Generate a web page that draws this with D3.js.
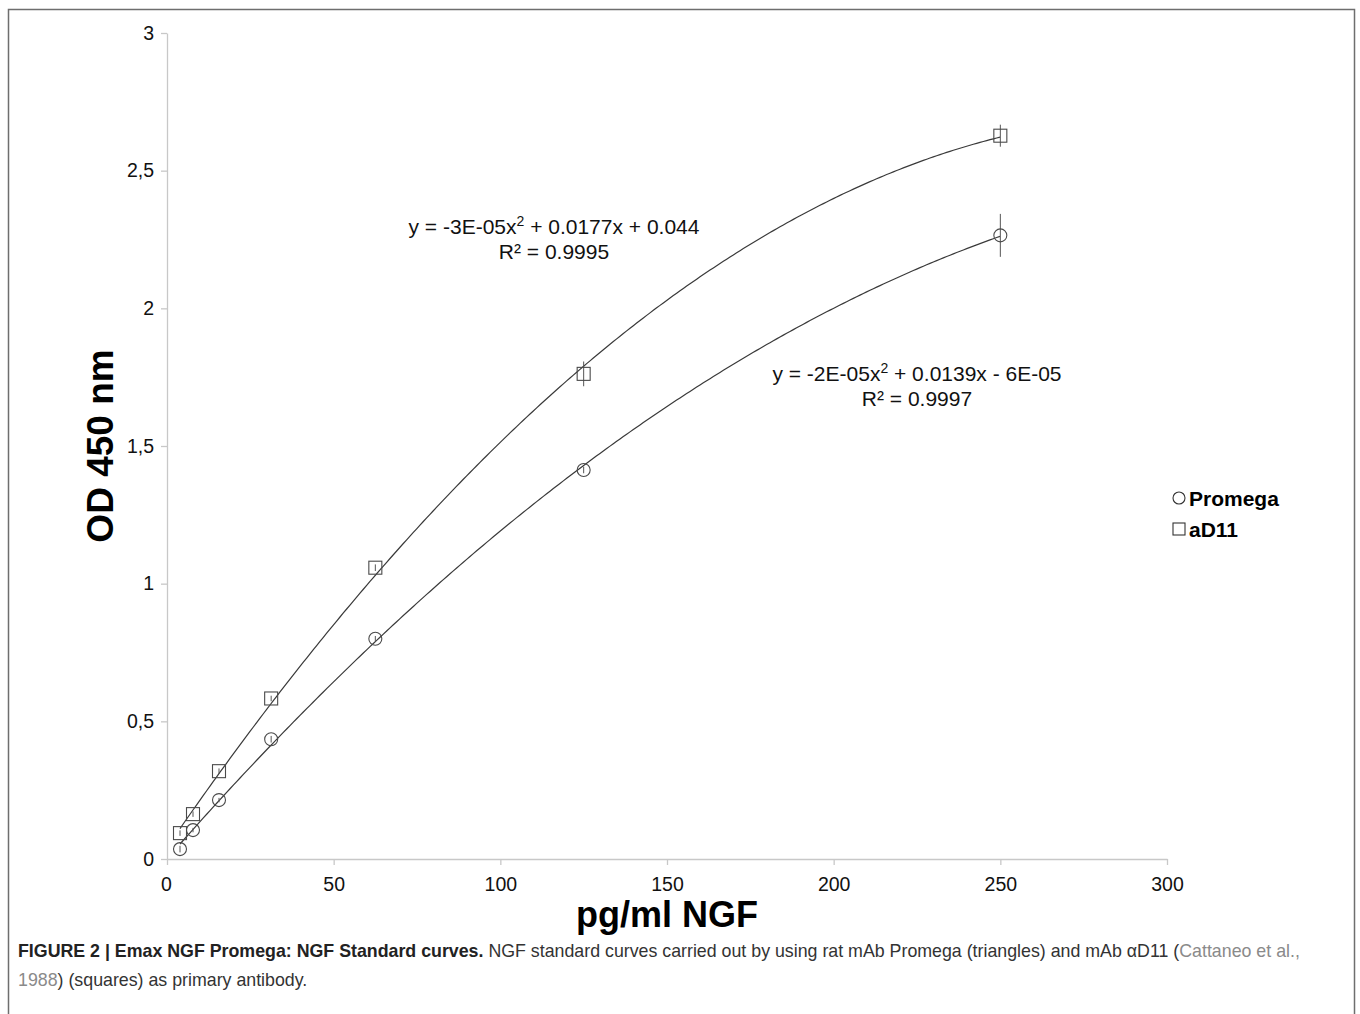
<!DOCTYPE html>
<html>
<head>
<meta charset="utf-8">
<script src="https://cdn.jsdelivr.net/npm/d3@7"></script>
<style>
  body { margin: 0; background: #fff; }
  svg { font-family: "Liberation Sans", Arial, sans-serif; }
</style>
</head>
<body>
<svg id="chart" width="1360" height="1014"></svg>
<script>
// concentrations (pg/ml)
const conc = [3.9, 7.8, 15.6, 31.25, 62.5, 125, 250]
// OD 450 values
const promega = [0.036, 0.105, 0.214, 0.435, 0.80, 1.413, 2.265]
const promegaErr = [0.012, 0.008, 0.008, 0.012, 0.01, 0.012, 0.078]
const ad11 = [0.094, 0.163, 0.319, 0.583, 1.058, 1.762, 2.627]
const ad11Err = [0.01, 0.01, 0.01, 0.01, 0.012, 0.045, 0.04]

const xTicks = [0, 50, 100, 150, 200, 250, 300]
const yTicks = [0, 0.5, 1, 1.5, 2, 2.5, 3]

const svg = d3.select("#chart")

// outer frame
svg.append("rect")
  .attr("x", 8.5).attr("y", 9.5)
  .attr("width", 1346).attr("height", 1020)
  .attr("fill", "none").attr("stroke", "#6e6e6e").attr("stroke-width", 1.5)

const x = d3.scaleLinear().domain([0, 300]).range([167, 1167])
const y = d3.scaleLinear().domain([0, 3]).range([859, 33])

const fmt = d => String(d).replace(".", ",")

// axes
const xAxis = svg.append("g")
  .attr("transform", "translate(0,859)")
  .call(d3.axisBottom(x).tickValues(xTicks).tickSize(8).tickSizeOuter(0).tickFormat(d => d))
const yAxis = svg.append("g")
  .attr("transform", "translate(167,0)")
  .call(d3.axisLeft(y).tickValues(yTicks).tickSize(6).tickSizeOuter(0).tickFormat(fmt))

;[xAxis, yAxis].forEach(g => {
  g.select(".domain").attr("stroke", "#c8c8c8").attr("stroke-width", 1.3)
  g.selectAll(".tick line").attr("stroke", "#c8c8c8").attr("stroke-width", 1.3)
  g.selectAll(".tick text")
    .attr("font-size", 19.5).attr("fill", "#111")
    .attr("font-family", "Liberation Sans, Arial, sans-serif")
})
xAxis.selectAll(".tick line").attr("y2", 6)
xAxis.selectAll(".tick text").attr("dy", "0.71em").attr("y", 18)
yAxis.selectAll(".tick text").attr("x", -13)
xAxis.selectAll(".tick text").filter(d => d === 0).attr("dx", -1)

// axis titles
svg.append("text")
  .attr("x", 667).attr("y", 927)
  .attr("text-anchor", "middle")
  .attr("font-size", 36).attr("font-weight", "bold")
  .text("pg/ml NGF")

svg.append("text")
  .attr("transform", "translate(113,446) rotate(-90)")
  .attr("text-anchor", "middle")
  .attr("font-size", 37).attr("font-weight", "bold")
  .text("OD 450 nm")

// quadratic least squares trendline
function quadFit(xs, ys) {
  let s = [0, 0, 0, 0, 0], t = [0, 0, 0]
  xs.forEach((xi, i) => {
    for (let k = 0; k < 5; k++) s[k] += Math.pow(xi, k)
    for (let k = 0; k < 3; k++) t[k] += ys[i] * Math.pow(xi, k)
  })
  const A = [[s[0], s[1], s[2], t[0]], [s[1], s[2], s[3], t[1]], [s[2], s[3], s[4], t[2]]]
  for (let i = 0; i < 3; i++) {
    for (let j = i + 1; j < 3; j++) {
      const f = A[j][i] / A[i][i]
      for (let k = i; k < 4; k++) A[j][k] -= f * A[i][k]
    }
  }
  const c = [0, 0, 0]
  for (let i = 2; i >= 0; i--) {
    let v = A[i][3]
    for (let k = i + 1; k < 3; k++) v -= A[i][k] * c[k]
    c[i] = v / A[i][i]
  }
  return xv => c[0] + c[1] * xv + c[2] * xv * xv
}

const line = d3.line().x(d => x(d[0])).y(d => y(d[1]))

function drawSeries(vals, errs, shape) {
  const f = quadFit(conc, vals)
  const pts = d3.range(conc[0], 250.01, 1).map(v => [v, f(v)])
  svg.append("path")
    .attr("d", line(pts))
    .attr("fill", "none").attr("stroke", "#3a3a3a").attr("stroke-width", 1.2)

  const data = conc.map((c, i) => ({ c: c, v: vals[i], e: errs[i] }))
  const g = svg.append("g")
  g.selectAll("line.err")
    .data(data)
    .join("line")
    .attr("class", "err")
    .attr("x1", d => x(d.c)).attr("x2", d => x(d.c))
    .attr("y1", d => y(d.v - d.e)).attr("y2", d => y(d.v + d.e))
    .attr("stroke", "#555").attr("stroke-width", 1)
  if (shape === "circle") {
    g.selectAll("circle")
      .data(data)
      .join("circle")
      .attr("cx", d => x(d.c)).attr("cy", d => y(d.v))
      .attr("r", 6.5)
      .attr("fill", "none").attr("stroke", "#4a4a4a").attr("stroke-width", 1.1)
  } else {
    g.selectAll("rect")
      .data(data)
      .join("rect")
      .attr("x", d => x(d.c) - 6.5).attr("y", d => y(d.v) - 6.5)
      .attr("width", 13).attr("height", 13)
      .attr("fill", "none").attr("stroke", "#4a4a4a").attr("stroke-width", 1.1)
  }
}

drawSeries(promega, promegaErr, "circle")
drawSeries(ad11, ad11Err, "square")

// equations
const eqs = [
  { x: 554, y: 234, l1: ["y = -3E-05x", "2", " + 0.0177x + 0.044"], l2: "R² = 0.9995" },
  { x: 917, y: 381, l1: ["y = -2E-05x", "2", " + 0.0139x - 6E-05"], l2: "R² = 0.9997" }
]
eqs.forEach(e => {
  const t = svg.append("text")
    .attr("x", e.x).attr("y", e.y)
    .attr("text-anchor", "middle").attr("font-size", 21).attr("fill", "#111")
  t.append("tspan").text(e.l1[0])
  t.append("tspan").attr("font-size", 14).attr("dy", -8).text(e.l1[1])
  t.append("tspan").attr("dy", 8).text(e.l1[2])
  svg.append("text")
    .attr("x", e.x).attr("y", e.y + 25)
    .attr("text-anchor", "middle").attr("font-size", 21).attr("fill", "#111")
    .text(e.l2)
})

// legend
svg.append("circle").attr("cx", 1179).attr("cy", 498).attr("r", 6)
  .attr("fill", "none").attr("stroke", "#333").attr("stroke-width", 1.1)
svg.append("text").attr("x", 1189).attr("y", 506)
  .attr("font-size", 21).attr("font-weight", "bold").text("Promega")
svg.append("rect").attr("x", 1173).attr("y", 523).attr("width", 12).attr("height", 12)
  .attr("fill", "none").attr("stroke", "#333").attr("stroke-width", 1.1)
svg.append("text").attr("x", 1189).attr("y", 537)
  .attr("font-size", 21).attr("font-weight", "bold").text("aD11")

// caption
const cap = svg.append("text").attr("x", 18).attr("y", 957)
  .attr("font-size", 17.8).attr("fill", "#333")
cap.append("tspan").attr("font-weight", "bold").attr("fill", "#222")
  .text("FIGURE 2 | Emax NGF Promega: NGF Standard curves.")
cap.append("tspan").text(" NGF standard curves carried out by using rat mAb Promega (triangles) and mAb αD11 (")
cap.append("tspan").attr("fill", "#8a8a8a").text("Cattaneo et al.,")
const cap2 = svg.append("text").attr("x", 18).attr("y", 986)
  .attr("font-size", 17.8).attr("fill", "#333")
cap2.append("tspan").attr("fill", "#8a8a8a").text("1988")
cap2.append("tspan").text(") (squares) as primary antibody.")
</script>
</body>
</html>
